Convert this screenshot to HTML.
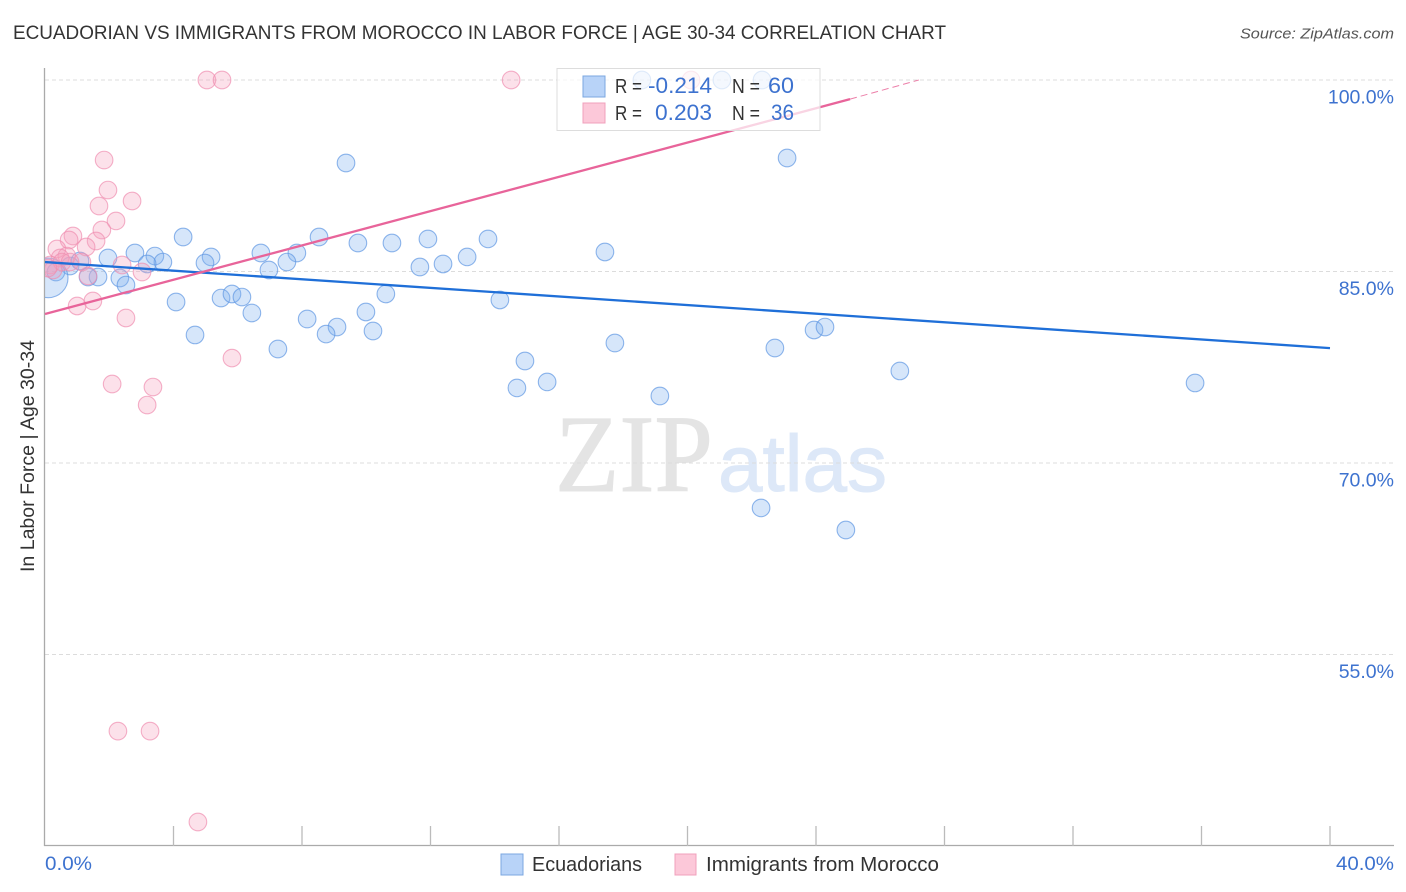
<!DOCTYPE html>
<html lang="en">
<head>
<meta charset="utf-8">
<title>Ecuadorian vs Immigrants from Morocco in Labor Force | Age 30-34 Correlation Chart</title>
<style>
html,body{margin:0;padding:0;background:#fff;width:1406px;height:892px;overflow:hidden}
svg{display:block;font-family:"Liberation Sans",sans-serif}
</style>
</head>
<body>
<svg id="chart" xmlns="http://www.w3.org/2000/svg" width="1406" height="892" viewBox="0 0 1406 892">
  <defs>
    <clipPath id="plot-clip"><rect x="45" y="50" width="1349" height="796"/></clipPath>
  </defs>
  <text x="13" y="39" font-size="19" fill="#333" textLength="933" lengthAdjust="spacingAndGlyphs">ECUADORIAN VS IMMIGRANTS FROM MOROCCO IN LABOR FORCE | AGE 30-34 CORRELATION CHART</text>
  <text x="1394" y="38.500" font-size="15" font-style="italic" fill="#555" text-anchor="end" textLength="154" lengthAdjust="spacingAndGlyphs">Source: ZipAtlas.com</text>

  <g>
    <text x="555" y="491" font-family="'Liberation Serif',serif" font-size="110" fill="#e4e4e4" stroke="#e4e4e4" stroke-width="1" textLength="158" lengthAdjust="spacingAndGlyphs">ZIP</text>
    <text x="718" y="491" font-size="80" fill="#dde8f8" stroke="#dde8f8" stroke-width="1" textLength="169" lengthAdjust="spacingAndGlyphs">atlas</text>
  </g>

  <g id="grid"></g>
  <g id="axes"></g>
  <g id="points" clip-path="url(#plot-clip)"></g>
  <g id="trends"></g>

  <g>
    <rect x="557" y="68.500" width="263" height="62" fill="#fff" fill-opacity="0.72" stroke="#ddd" stroke-width="1"/>
    <rect x="583" y="76" width="22" height="21" fill="#b8d3f8" stroke="#7ba7e0" stroke-width="1"/>
    <rect x="583" y="103" width="22" height="20" fill="#fcc8d9" stroke="#f0a0bc" stroke-width="1"/>
    <text x="615" y="93" font-size="20" fill="#333" textLength="27" lengthAdjust="spacingAndGlyphs">R =</text>
    <text x="648" y="93" font-size="22" fill="#3d72cf" textLength="64" lengthAdjust="spacingAndGlyphs">-0.214</text>
    <text x="732" y="93" font-size="20" fill="#333" textLength="28" lengthAdjust="spacingAndGlyphs">N =</text>
    <text x="768" y="93" font-size="22" fill="#3d72cf" textLength="26" lengthAdjust="spacingAndGlyphs">60</text>
    <text x="615" y="120" font-size="20" fill="#333" textLength="27" lengthAdjust="spacingAndGlyphs">R =</text>
    <text x="655" y="120" font-size="22" fill="#3d72cf" textLength="57" lengthAdjust="spacingAndGlyphs">0.203</text>
    <text x="732" y="120" font-size="20" fill="#333" textLength="28" lengthAdjust="spacingAndGlyphs">N =</text>
    <text x="771" y="120" font-size="22" fill="#3d72cf" textLength="23" lengthAdjust="spacingAndGlyphs">36</text>
  </g>

  <text transform="translate(34,456) rotate(-90)" font-size="19" fill="#333" text-anchor="middle" textLength="232" lengthAdjust="spacingAndGlyphs">In Labor Force | Age 30-34</text>
  <text x="45" y="870" font-size="19.500" fill="#3d72cf" textLength="47" lengthAdjust="spacingAndGlyphs">0.0%</text>
  <text x="1336" y="870" font-size="19.500" fill="#3d72cf" textLength="58" lengthAdjust="spacingAndGlyphs">40.0%</text>

  <g>
    <rect x="501" y="854" width="22" height="21" fill="#b8d3f8" stroke="#7ba7e0" stroke-width="1"/>
    <text x="532" y="871" font-size="20" fill="#333" textLength="110" lengthAdjust="spacingAndGlyphs">Ecuadorians</text>
    <rect x="675" y="854" width="21" height="21" fill="#fcc8d9" stroke="#f0a0bc" stroke-width="1"/>
    <text x="706" y="871" font-size="20" fill="#333" textLength="233" lengthAdjust="spacingAndGlyphs">Immigrants from Morocco</text>
  </g>
</svg>
<script>
const yTickValues = [100, 85, 70, 55];
const yTickLabels = ["100.0%", "85.0%", "70.0%", "55.0%"];
const xTickValues = [4, 8, 12, 16, 20, 24, 28, 32, 36, 40];

const ecuadorianX = [18.58,21.07,22.32,9.37,23.10,4.30,8.53,9.74,10.80,11.92,13.79,17.43,13.14,2.80,1.96,3.42,3.67,5.17,4.98,6.72,7.84,7.53,6.97,11.67,12.39,3.18,0.78,1.09,0.34,1.65,1.34,2.33,2.52,4.08,5.48,5.82,6.13,6.44,8.16,10.61,9.99,14.16,9.09,8.75,10.21,4.67,7.25,14.94,14.69,15.63,17.74,19.14,22.72,23.94,24.28,26.61,35.80,22.29,24.93,0.10];
const ecuadorianY = [100,100,100,93.5,93.89,87.70,87.70,87.23,87.23,87.55,87.55,86.53,86.14,86.45,86.06,86.21,85.74,86.14,85.67,86.45,86.45,85.74,85.12,85.35,85.59,85.59,85.43,85.82,84.96,84.57,84.57,84.49,83.94,82.61,82.92,83.24,83.00,81.75,81.28,83.24,81.83,82.77,80.65,80.10,80.34,80.03,78.93,77.99,75.88,76.35,79.40,75.25,79.01,80.42,80.65,77.21,76.27,66.48,64.75,84.50];
const ecuadorianSize = [1,1,1,1,1,1,1,1,1,1,1,1,1,1,1,1,1,1,1,1,1,1,1,1,1,1,1,1,1,1,1,1,1,1,1,1,1,1,1,1,1,1,1,1,1,1,1,1,1,1,1,1,1,1,1,1,1,1,1,2.25];

const moroccoX = [5.04,5.51,14.51,20.11,1.84,1.96,2.71,1.68,2.21,1.77,0.87,0.75,1.59,1.28,0.37,0.68,0.47,0.16,2.40,1.15,3.02,1.34,0.25,1.00,1.49,2.52,5.82,2.09,3.36,3.18,2.27,3.27,4.76,0.53,0.78,0.09];
const moroccoY = [100,100,100,100,93.73,91.38,90.52,90.13,88.96,88.25,87.78,87.47,87.39,86.92,86.76,86.21,86.06,85.51,85.51,85.74,84.96,84.65,85.12,82.30,82.69,81.36,78.22,76.19,75.95,74.54,49.0,49.0,41.88,85.74,85.74,85.27];

const ecuadorianTrendX = [0, 40];
const ecuadorianTrendY = [85.74, 79.0];
const moroccoTrendX = [0, 25.06];
const moroccoTrendY = [81.67, 98.5];
const moroccoTrendExtX = [25.06, 27.2];
const moroccoTrendExtY = [98.5, 100];

const NS = "http://www.w3.org/2000/svg";
function sx(v) { return 45 + v * 32.125; }
function sy(v) { return 80 + (100 - v) * 12.767; }
function make(tag, attrs, parent) {
  const el = document.createElementNS(NS, tag);
  for (const k in attrs) el.setAttribute(k, attrs[k]);
  parent.appendChild(el);
  return el;
}
const gridG = document.getElementById("grid");
const axesG = document.getElementById("axes");
const pointsG = document.getElementById("points");
const trendsG = document.getElementById("trends");

yTickValues.forEach(function (v, i) {
  const line = make("line", {x1: 45, x2: 1394, y1: sy(v), y2: sy(v), stroke: "#dcdcdc", "stroke-width": 1, "stroke-dasharray": "4 3"}, gridG);
  
  
  const label = make("text", {x: 1394, y: sy(v) + 23.5, "font-size": 19.5, fill: "#3d72cf", "text-anchor": "end"}, axesG);
  label.textContent = yTickLabels[i];
  
  
});

const yAxis = make("line", {x1: 44.5, x2: 44.5, y1: 68, y2: 846, stroke: "#aaa", "stroke-width": 1.3}, axesG);


const xAxis = make("line", {x1: 44, x2: 1394, y1: 845.5, y2: 845.5, stroke: "#aaa", "stroke-width": 1.3}, axesG);



xTickValues.forEach(function (v) {
  const tick = make("line", {x1: sx(v), x2: sx(v), y1: 826, y2: 846, stroke: "#bbb", "stroke-width": 1.3}, axesG);
  
  
});

ecuadorianX.forEach(function (v, i) {
  const c = make("circle", {cx: sx(v), cy: sy(ecuadorianY[i]), r: 8.8 * ecuadorianSize[i], fill: "#7fb0f0", "fill-opacity": 0.32, stroke: "#5f97e2", "stroke-opacity": 0.7, "stroke-width": 1.1}, pointsG);
  
  
});
moroccoX.forEach(function (v, i) {
  const c = make("circle", {cx: sx(v), cy: sy(moroccoY[i]), r: 8.8, fill: "#f7a3bf", "fill-opacity": 0.32, stroke: "#ef8fb0", "stroke-opacity": 0.7, "stroke-width": 1.1}, pointsG);
  
  
});

const blueLine = make("line", {x1: sx(ecuadorianTrendX[0]), y1: sy(ecuadorianTrendY[0]), x2: sx(ecuadorianTrendX[1]), y2: sy(ecuadorianTrendY[1]), stroke: "#1f6fd8", "stroke-width": 2.3}, trendsG);


const pinkLine = make("line", {x1: sx(moroccoTrendX[0]), y1: sy(moroccoTrendY[0]), x2: sx(moroccoTrendX[1]), y2: sy(moroccoTrendY[1]), stroke: "#e8649a", "stroke-width": 2.3}, trendsG);


const pinkExt = make("line", {x1: sx(moroccoTrendExtX[0]), y1: sy(moroccoTrendExtY[0]), x2: sx(moroccoTrendExtX[1]), y2: sy(moroccoTrendExtY[1]), stroke: "#ec7fa9", "stroke-width": 1, "stroke-dasharray": "7 4"}, trendsG);


</script>
</body>
</html>
